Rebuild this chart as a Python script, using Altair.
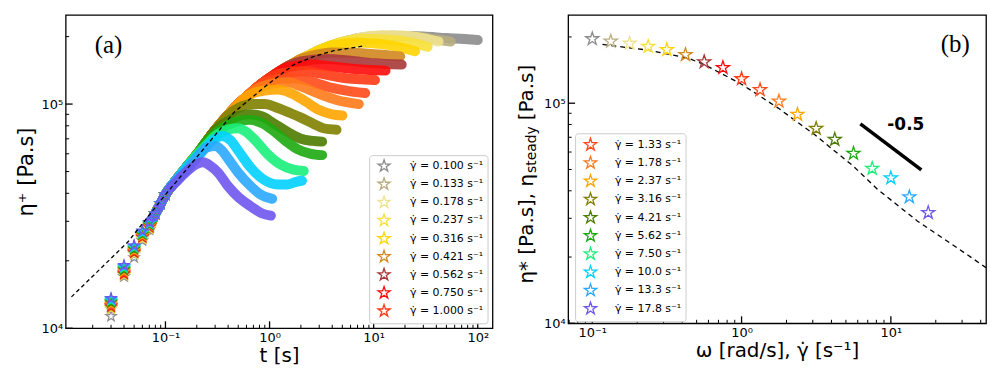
import altair as alt
import pandas as pd

STAR = ("M0,-1L0.2245,-0.309L0.9511,-0.309L0.3633,0.118L0.5878,0.809L0,0.382"
        "L-0.5878,0.809L-0.3633,0.118L-0.9511,-0.309L-0.2245,-0.309Z")
GD = "\u03b3\u0307"

RATE_TEXT = ["0.100", "0.133", "0.178", "0.237", "0.316", "0.421", "0.562", "0.750", "1.000",
             "1.33", "1.78", "2.37", "3.16", "4.21", "5.62", "7.50", "10.0", "13.3", "17.8"]
RATES = [0.100, 0.133, 0.178, 0.237, 0.316, 0.421, 0.562, 0.750, 1.000,
         1.33, 1.78, 2.37, 3.16, 4.21, 5.62, 7.50, 10.0, 13.3, 17.8]
LABELS = [f"{GD} = {r} s\u207b\u00b9" for r in RATE_TEXT]
COLORS = ["#8c8c8c", "#b8ad80", "#efe38f", "#f7e03a", "#ffd500", "#d2871f", "#a8383a",
          "#ff0a0a", "#ff3a14", "#ff4a1a", "#ff7a1a", "#ffa500", "#808000", "#4c7c00",
          "#1daa10", "#19f07a", "#00d0ff", "#2aa8ff", "#6f55ee"]

# panel (b): steady viscosity per shear rate
ETA_STEADY = [1.96e5, 1.91e5, 1.87e5, 1.81e5, 1.75e5, 1.66e5, 1.54e5, 1.45e5, 1.29e5,
              1.15e5, 1.02e5, 8.89e4, 7.67e4, 6.84e4, 5.91e4, 5.05e4, 4.57e4, 3.75e4, 3.18e4]

# panel (a): early discrete points (t = 0.03 ... 0.07 s)
T_EARLY = [0.03, 0.04, 0.05, 0.06, 0.07]
ETA_EARLY = [
    [1.13e4, 1.70e4, 2.07e4, 2.46e4, 2.75e4],
    [1.22e4, 1.72e4, 2.14e4, 2.50e4, 2.78e4],
    [1.23e4, 1.73e4, 2.15e4, 2.51e4, 2.79e4],
    [1.23e4, 1.73e4, 2.16e4, 2.52e4, 2.80e4],
    [1.24e4, 1.74e4, 2.17e4, 2.53e4, 2.81e4],
    [1.24e4, 1.74e4, 2.17e4, 2.54e4, 2.82e4],
    [1.25e4, 1.75e4, 2.18e4, 2.55e4, 2.83e4],
    [1.26e4, 1.76e4, 2.19e4, 2.56e4, 2.84e4],
    [1.26e4, 1.77e4, 2.20e4, 2.57e4, 2.85e4],
    [1.27e4, 1.78e4, 2.21e4, 2.58e4, 2.86e4],
    [1.28e4, 1.79e4, 2.22e4, 2.59e4, 2.87e4],
    [1.29e4, 1.80e4, 2.23e4, 2.60e4, 2.88e4],
    [1.30e4, 1.82e4, 2.25e4, 2.62e4, 2.89e4],
    [1.31e4, 1.83e4, 2.26e4, 2.63e4, 2.90e4],
    [1.32e4, 1.85e4, 2.28e4, 2.65e4, 2.92e4],
    [1.33e4, 1.86e4, 2.29e4, 2.66e4, 2.93e4],
    [1.34e4, 1.88e4, 2.31e4, 2.68e4, 2.95e4],
    [1.35e4, 1.89e4, 2.32e4, 2.70e4, 2.96e4],
    [1.36e4, 1.91e4, 2.34e4, 2.72e4, 2.97e4],
]

# panel (a): common start-up rise
RISE_T = [0.08, 0.09, 0.10, 0.13, 0.16, 0.20, 0.25, 0.30, 0.40, 0.50, 0.60, 0.70, 0.85,
          1.0, 1.3, 1.6, 2.0, 2.5, 3.0, 4.0, 5.0, 6.5]
RISE_ETA = [3.25e4, 3.6e4, 3.95e4, 4.65e4, 5.25e4, 5.95e4, 6.85e4, 7.65e4, 8.95e4, 1.0e5,
            1.08e5, 1.15e5, 1.24e5, 1.31e5, 1.42e5, 1.50e5, 1.59e5, 1.67e5, 1.74e5,
            1.83e5, 1.89e5, 1.95e5]

# panel (a): each series after it leaves the common rise
OWN_T = [
    [8, 15, 30, 50, 75, 100],
    [7, 12, 25, 40, 55],
    [7, 12, 20, 30, 42],
    [5, 8, 15, 25, 33],
    [4, 7, 12, 18, 25],
    [2.5, 4, 7, 12, 18],
    [2.0, 3.5, 6, 10, 18.6],
    [1.5, 2.5, 4, 7, 13],
    [1.2, 1.6, 2.2, 3.0, 5.0, 10.3],
    [1.0, 1.3, 1.8, 2.5, 4.0, 6.0, 8.3],
    [0.85, 1.1, 1.5, 2.0, 3.0, 4.5, 7.2],
    [0.7, 0.9, 1.2, 1.6, 2.2, 3.0, 4.0, 5.0],
    [0.5, 0.7, 0.9, 1.2, 1.6, 2.0, 2.6, 3.3, 4.4],
    [0.4, 0.5, 0.65, 0.85, 1.1, 1.5, 2.0, 2.6, 3.2],
    [0.3, 0.4, 0.5, 0.65, 0.85, 1.05, 1.4, 1.85, 2.5, 3.2],
    [0.25, 0.3, 0.4, 0.5, 0.6, 0.75, 0.95, 1.25, 1.7, 2.13],
    [0.2, 0.25, 0.3, 0.35, 0.42, 0.5, 0.66, 0.88, 1.2, 1.5, 1.8, 2.05],
    [0.16, 0.2, 0.25, 0.3, 0.35, 0.4, 0.5, 0.66, 0.82, 1.06],
    [0.13, 0.16, 0.2, 0.23, 0.27, 0.32, 0.4, 0.5, 0.66, 0.85, 1.03],
]
OWN_ETA = [
    [1.97e5, 2.02e5, 2.0e5, 1.97e5, 1.95e5, 1.93e5],
    [1.97e5, 2.02e5, 2.0e5, 1.94e5, 1.9e5],
    [1.97e5, 2.03e5, 2.02e5, 1.97e5, 1.9e5],
    [1.90e5, 1.95e5, 1.93e5, 1.86e5, 1.8e5],
    [1.83e5, 1.88e5, 1.85e5, 1.79e5, 1.72e5],
    [1.64e5, 1.70e5, 1.69e5, 1.66e5, 1.63e5],
    [1.55e5, 1.59e5, 1.56e5, 1.52e5, 1.50e5],
    [1.46e5, 1.50e5, 1.47e5, 1.43e5, 1.41e5],
    [1.36e5, 1.39e5, 1.40e5, 1.37e5, 1.31e5, 1.28e5],
    [1.27e5, 1.30e5, 1.30e5, 1.26e5, 1.18e5, 1.14e5, 1.12e5],
    [1.20e5, 1.24e5, 1.25e5, 1.20e5, 1.11e5, 1.04e5, 1.0e5],
    [1.12e5, 1.15e5, 1.16e5, 1.12e5, 1.03e5, 9.4e4, 9.0e4, 8.9e4],
    [9.6e4, 1.0e5, 1.0e5, 9.6e4, 9.1e4, 8.7e4, 8.2e4, 7.8e4, 7.68e4],
    [8.4e4, 8.85e4, 9.0e4, 8.8e4, 8.2e4, 7.5e4, 7.0e4, 6.85e4, 6.8e4],
    [7.4e4, 8.1e4, 8.4e4, 8.5e4, 8.2e4, 7.7e4, 6.9e4, 6.3e4, 6.0e4, 5.92e4],
    [6.6e4, 7.2e4, 7.7e4, 7.8e4, 7.5e4, 6.8e4, 6.0e4, 5.4e4, 5.1e4, 5.03e4],
    [5.75e4, 6.5e4, 7.0e4, 7.2e4, 6.9e4, 6.2e4, 5.2e4, 4.6e4, 4.38e4, 4.38e4, 4.5e4, 4.55e4],
    [5.1e4, 5.8e4, 6.4e4, 6.5e4, 6.2e4, 5.7e4, 4.95e4, 4.3e4, 3.95e4, 3.78e4],
    [4.55e4, 5.0e4, 5.4e4, 5.5e4, 5.3e4, 4.95e4, 4.3e4, 3.85e4, 3.5e4, 3.25e4, 3.18e4],
]

DASH_A_T = [0.0125, 0.0437, 0.098, 0.219, 0.457, 0.953, 1.71, 2.67, 4.13, 8.3]
DASH_A_ETA = [1.38e4, 2.43e4, 3.9e4, 6.1e4, 9.2e4, 1.22e5, 1.5e5, 1.63e5, 1.73e5, 1.82e5]

DASH_B_W = [0.117, 0.239, 0.44, 0.56, 1.0, 1.76, 3.08, 5.6, 8.15, 15.1, 30.8, 43.4]
DASH_B_ETA = [1.85e5, 1.74e5, 1.6e5, 1.5e5, 1.22e5, 9.5e4, 7.2e4, 5.18e4, 4.06e4, 2.91e4, 2.1e4, 1.79e4]

SLOPE_W = [6.25, 16.0]
SLOPE_ETA = [8.05e4, 4.98e4]
SLOPE_TEXT_W = [12.6]
SLOPE_TEXT_ETA = [7.94e4]

XA_MAJOR = [0.1, 1, 10, 100]
XA_MINOR = [0.02, 0.03, 0.04, 0.05, 0.06, 0.07, 0.08, 0.09, 0.2, 0.3, 0.4, 0.5, 0.6, 0.7, 0.8, 0.9,
            2, 3, 4, 5, 6, 7, 8, 9, 20, 30, 40, 50, 60, 70, 80, 90]
XB_MAJOR = [0.1, 1, 10]
XB_MINOR = [0.07, 0.08, 0.09, 0.2, 0.3, 0.4, 0.5, 0.6, 0.7, 0.8, 0.9,
            2, 3, 4, 5, 6, 7, 8, 9, 20, 30, 40]
Y_MAJOR = [1e4, 1e5]
Y_MINOR = [2e4, 3e4, 4e4, 5e4, 6e4, 7e4, 8e4, 9e4, 2e5]

# ---------------------------------------------------------------- tables
band_rows, star_rows = [], []
for i, lab in enumerate(LABELS):
    pts = [(T_EARLY[-1], ETA_EARLY[i][-1])]
    pts += [(t, e) for t, e in zip(RISE_T, RISE_ETA) if t < OWN_T[i][0]]
    pts += list(zip(OWN_T[i], OWN_ETA[i]))
    for t, e in pts:
        band_rows.append({"series": lab, "t": t, "eta": e})
    for t, e in zip(T_EARLY, ETA_EARLY[i]):
        star_rows.append({"series": lab, "t": t, "eta": e})
    for t, e in zip(RISE_T, RISE_ETA):
        if t <= 0.1 and t < OWN_T[i][0]:
            star_rows.append({"series": lab, "t": t, "eta": e})
band = pd.DataFrame(band_rows)
stars_a = pd.DataFrame(star_rows)
stars_b = pd.DataFrame({"series": LABELS, "w": RATES, "eta": ETA_STEADY})
dash_a = pd.DataFrame({"t": DASH_A_T, "eta": DASH_A_ETA})
dash_b = pd.DataFrame({"w": DASH_B_W, "eta": DASH_B_ETA})
slope = pd.DataFrame({"w": SLOPE_W, "eta": SLOPE_ETA})
slope_txt = pd.DataFrame({"w": SLOPE_TEXT_W, "eta": SLOPE_TEXT_ETA, "s": ["-0.5"]})

WA, HA = 429, 315
WB, HB = 420, 310
FONT = "DejaVu Sans"

xs_a = alt.Scale(type="log", domain=[0.011, 138.6], nice=False)
ys_a = alt.Scale(type="log", domain=[1e4, 2.5e5], nice=False)
xs_b = alt.Scale(type="log", domain=[0.0689, 43.4], nice=False)
ys_b = alt.Scale(type="log", domain=[1e4, 2.52e5], nice=False)
cs = alt.Scale(domain=LABELS, range=COLORS)

x_label_expr = ("datum.value < 0.5 ? '10\u207b\u00b9' : datum.value < 5 ? '10\u2070' : "
                "datum.value < 50 ? '10\u00b9' : '10\u00b2'")
y_label_expr = "datum.value < 50000 ? '10\u2074' : '10\u2075'"


def x_axis(values, title):
    return alt.Axis(values=values, labelExpr=x_label_expr, ticks=False, domain=False,
                    grid=False, labelFontSize=13, labelPadding=3, labelFont=FONT,
                    title=title, titleFontSize=20, titleFont=FONT, titleFontWeight="normal",
                    titlePadding=1, labelColor="black", titleColor="black")


def y_axis(title, **kw):
    return alt.Axis(values=Y_MAJOR, labelExpr=y_label_expr, ticks=False, domain=False,
                    grid=False, labelFontSize=13, labelPadding=3, labelFont=FONT,
                    title=title, titleFont=FONT, titleFontWeight="normal",
                    labelColor="black", titleColor="black", **kw)


def legend(values, lx, ly, size, row_pad, lab_off):
    return alt.Legend(title=None, orient="none", legendX=lx, legendY=ly, values=values,
                      symbolType=STAR, symbolSize=size, symbolStrokeWidth=1.3,
                      labelFont=FONT, labelFontSize=11, labelColor="black",
                      rowPadding=row_pad, padding=4, labelOffset=lab_off, symbolOffset=4,
                      strokeColor="#cccccc", fillColor="#ffffff", cornerRadius=3)


AX_XA = x_axis(XA_MAJOR, "t [s]")
AX_YA = y_axis("\u03b7\u207a [Pa.s]", titleFontSize=21, titleX=-39, titleY=HA / 2,
               titleAngle=270, titleAlign="center", titleBaseline="middle")
AX_XB = x_axis(XB_MAJOR, f"\u03c9 [rad/s], {GD} [s\u207b\u00b9]")
AX_YB = y_axis(None)


def tick_layers(xvals_major, xvals_minor, xs, ys, H, xfield, ax_x, ax_y):
    out = []
    for vals, ln, sw in [(xvals_major, 7, 1.3), (xvals_minor, 3.5, 1.0)]:
        df = pd.DataFrame({xfield: vals})
        out.append(alt.Chart(df).mark_rule(color="black", strokeWidth=sw).encode(
            x=alt.X(f"{xfield}:Q", scale=xs, axis=ax_x),
            y=alt.value(H), y2=alt.value(H - ln)))
    for vals, ln, sw in [(Y_MAJOR, 7, 1.3), (Y_MINOR, 3.5, 1.0)]:
        df = pd.DataFrame({"eta": vals})
        out.append(alt.Chart(df).mark_rule(color="black", strokeWidth=sw).encode(
            y=alt.Y("eta:Q", scale=ys, axis=ax_y),
            x=alt.value(0), x2=alt.value(ln)))
    return out


# ---------------------------------------------------------------- panel (a)
lines_a = alt.Chart(band).mark_line(strokeWidth=10, opacity=0.9, strokeCap="round",
                                    strokeJoin="round", interpolate="monotone").encode(
    x=alt.X("t:Q", scale=xs_a, axis=AX_XA),
    y=alt.Y("eta:Q", scale=ys_a, axis=AX_YA),
    stroke=alt.Stroke("series:N", scale=cs, legend=None),
)
pts_a = alt.Chart(stars_a).mark_point(shape=STAR, filled=False, size=120, strokeWidth=1.2,
                                      opacity=1).encode(
    x=alt.X("t:Q", scale=xs_a, axis=AX_XA),
    y=alt.Y("eta:Q", scale=ys_a, axis=AX_YA),
    color=alt.Color("series:N", scale=cs,
                    legend=legend(LABELS[:9], 305, 141, 160, 1.2, 19)),
)
dashed_a = alt.Chart(dash_a).mark_line(color="black", strokeDash=[4, 3], strokeWidth=1.3).encode(
    x=alt.X("t:Q", scale=xs_a, axis=AX_XA),
    y=alt.Y("eta:Q", scale=ys_a, axis=AX_YA),
)
tag_a = alt.Chart(pd.DataFrame({"s": ["(a)"]})).mark_text(
    font="Liberation Serif", fontSize=25, align="center", baseline="middle", color="black"
).encode(text="s:N", x=alt.value(43), y=alt.value(30))

panel_a = alt.layer(lines_a, pts_a, dashed_a,
                    *tick_layers(XA_MAJOR, XA_MINOR, xs_a, ys_a, HA, "t", AX_XA, AX_YA),
                    tag_a).properties(width=WA, height=HA)

# ---------------------------------------------------------------- panel (b)
dashed_b = alt.Chart(dash_b).mark_line(color="black", strokeDash=[5, 4], strokeWidth=1.3).encode(
    x=alt.X("w:Q", scale=xs_b, axis=AX_XB),
    y=alt.Y("eta:Q", scale=ys_b, axis=AX_YB),
)
pts_b = alt.Chart(stars_b).mark_point(shape=STAR, filled=False, size=190, strokeWidth=1.3,
                                      opacity=1).encode(
    x=alt.X("w:Q", scale=xs_b, axis=AX_XB),
    y=alt.Y("eta:Q", scale=ys_b, axis=AX_YB),
    color=alt.Color("series:N", scale=cs,
                    legend=legend(LABELS[9:], 7, 119, 170, 0.3, 17)),
)
slope_b = alt.Chart(slope).mark_line(color="black", strokeWidth=3.5).encode(
    x=alt.X("w:Q", scale=xs_b, axis=AX_XB),
    y=alt.Y("eta:Q", scale=ys_b, axis=AX_YB),
)
slope_t = alt.Chart(slope_txt).mark_text(font=FONT, fontSize=17, fontWeight="bold",
                                         color="black").encode(
    x=alt.X("w:Q", scale=xs_b, axis=AX_XB),
    y=alt.Y("eta:Q", scale=ys_b, axis=AX_YB),
    text="s:N",
)
tag_b = alt.Chart(pd.DataFrame({"s": ["(b)"]})).mark_text(
    font="Liberation Serif", fontSize=25, align="center", baseline="middle", color="black"
).encode(text="s:N", x=alt.value(389), y=alt.value(29))

TITLE_PIECES = [("\u03b7* [Pa.s], \u03b7", 20, -41, 270),
                ("steady", 14, -36, 159),
                ("[Pa.s]", 20, -41, 106)]
title_layers = []
for txt, fs, px, py in TITLE_PIECES:
    title_layers.append(
        alt.Chart(pd.DataFrame({"s": [txt]})).mark_text(
            font=FONT, fontSize=fs, angle=270, align="left", baseline="middle", color="black"
        ).encode(text="s:N", x=alt.value(px), y=alt.value(py)))

panel_b = alt.layer(dashed_b, pts_b, slope_b, slope_t,
                    *tick_layers(XB_MAJOR, XB_MINOR, xs_b, ys_b, HB, "w", AX_XB, AX_YB),
                    tag_b, *title_layers).properties(width=WB, height=HB)

chart = alt.hconcat(panel_a, panel_b, spacing=76, bounds="flush").resolve_scale(
    color="independent", x="independent", y="independent"
).resolve_legend(color="independent").properties(
    padding={"left": 15, "top": 13, "right": 0, "bottom": 0}, background="white"
).configure_view(stroke="black", strokeWidth=1.3)

chart.save("out.html", embed_options={"renderer": "svg", "actions": False})
